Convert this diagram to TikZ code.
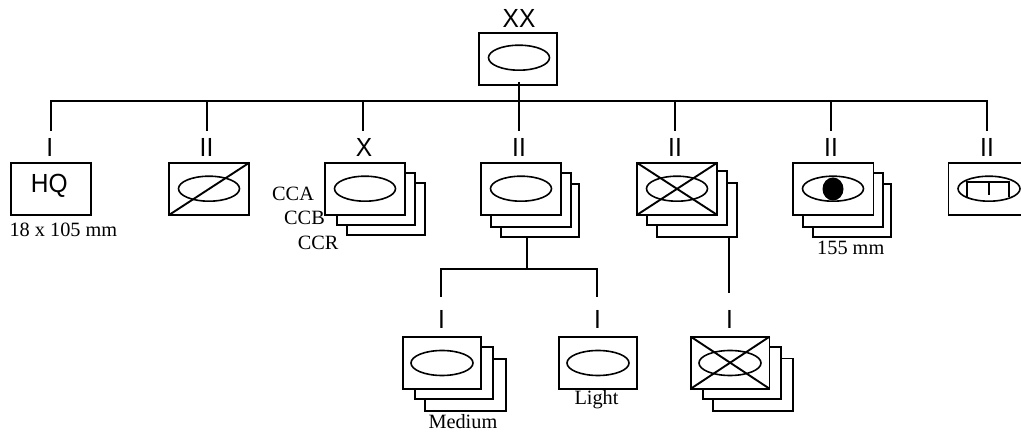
\documentclass[tikz,border=0pt]{standalone}
\usepackage{fontspec}
\setmainfont{Liberation Serif}
\newfontfamily\arialf{Liberation Sans}
\usetikzlibrary{shapes.geometric}
\tikzset{
  line/.style={line width=2pt,line cap=butt},
  unit/.style={draw,line width=1.9pt,fill=white,rectangle,inner sep=0pt,outer sep=0pt},
  oval/.style={draw,line width=1.6pt,shape=ellipse,minimum width=61pt,minimum height=25pt,inner sep=0pt},
  echelon/.style={inner sep=0pt,text height=18.5pt,text depth=0pt,outer sep=7pt},
  note/.style={font=\fontsize{20.3}{20.3}\selectfont,inner sep=0pt,anchor=base west},
  cross/.style={line width=1.9pt},
  inner/.style={line width=1.6pt}
}
\newcommand{\ubox}[5]{\node[unit,minimum width=#4pt-#2pt,minimum height=#5pt-#3pt] (#1) at ({(#2+#4)/2},{(#3+#5)/2}) {};}
\newcommand{\ech}[1]{\scalebox{1}[1.07]{\arialf\fontsize{24.5}{24.5}\selectfont #1}}
\begin{document}
\begin{tikzpicture}[x=1pt,y=-1pt]
\useasboundingbox (0,0) rectangle (1021,435);
\clip (0,0) rectangle (1021,435);
\fill[white] (0,0) rectangle (1021,435);

% bus coordinates
\coordinate (b1) at (51,101);
\coordinate (b2) at (207,101);
\coordinate (b3) at (363,101);
\coordinate (b4) at (519,101);
\coordinate (b5) at (675,101);
\coordinate (b6) at (831,101);
\coordinate (b7) at (987,101);
\coordinate (xxfoot) at (519,82);
\coordinate (sub) at (527,269);
\coordinate (subL) at (441,269);
\coordinate (subR) at (597,269);

% echelon labels
\node[echelon] (lxx) at (519,18) {\ech{XX}};
\node[echelon] (l1) at (49.7,147.5) {\ech{I}};
\node[echelon] (l2) at (206.5,147.5) {\ech{II}};
\node[echelon] (l3) at (364,147.5) {\ech{X}};
\node[echelon] (l4) at (519,147.5) {\ech{II}};
\node[echelon] (l5) at (675,147.5) {\ech{II}};
\node[echelon] (l6) at (831,147.5) {\ech{II}};
\node[echelon] (l7) at (987,147.5) {\ech{II}};
\node[echelon] (l8) at (441.5,319) {\ech{I}};
\node[echelon] (l9) at (597.5,319) {\ech{I}};
\node[echelon] (l10) at (729.5,319) {\ech{I}};
\coordinate (e8) at (441,296.7);
\coordinate (e9) at (597,296.7);
\coordinate (e10) at (729,293.3);

% units
\ubox{hq}{11}{162.7}{91}{215}
\node[inner sep=0pt] (hqt) at (49.3,186) {\ech{HQ}};

\ubox{uxx}{478.8}{32.7}{557.4}{85}
\node[oval] (oxx) at (519,57.7) {};

\ubox{u2}{169}{162.7}{249.3}{215}
\node[oval] (o2) at (209,188.7) {};
\draw[cross] (u2.south west) -- (u2.north east);

\ubox{u3c}{347}{182.7}{425.3}{235}
\ubox{u3b}{337}{172.7}{415.3}{225}
\ubox{u3}{325}{162.7}{405.3}{215}
\node[oval] (o3) at (365,188.7) {};

\ubox{u4c}{501}{184.3}{579.3}{237}
\ubox{u4b}{491}{172.7}{571.3}{227}
\ubox{u4}{481}{162.7}{561.4}{215}
\node[oval] (o4) at (521,188.7) {};

\ubox{u5c}{657.2}{182.7}{737.3}{237}
\ubox{u5b}{647}{170.7}{727}{225}
\ubox{u5}{636.8}{162.7}{717.3}{215}
\node[oval] (o5) at (677,188.7) {};
\draw[cross] (u5.south west) -- (u5.north east);
\draw[cross] (u5.north west) -- (u5.south east);

\ubox{u6c}{813}{184.3}{891.4}{237}
\ubox{u6b}{802.9}{172.7}{883.4}{227}
\ubox{u6}{792.7}{162.7}{873.5}{215}
\node[oval] (o6) at (833,188.7) {};
\fill (833,189) ellipse [x radius=10.5,y radius=11.5];

\ubox{u7}{948.5}{162.7}{1029}{215}
\node[oval,minimum width=62pt] (o7) at (989,188.7) {};
\draw[inner] (967,197) -- (967,182) -- (1009,182) -- (1009,197);
\draw[inner] (989,182) -- (989,195);

\ubox{m3}{425}{358.7}{505.7}{411}
\ubox{m2}{415}{346.7}{493.3}{399}
\ubox{m1}{402.7}{336.7}{481.3}{388.7}
\node[oval,minimum width=62pt] (om) at (442,363) {};

\ubox{li}{559}{336.7}{637.3}{388.7}
\node[oval,minimum width=62pt] (ol) at (598,363) {};

\ubox{r3}{713.3}{358.5}{793.3}{410.8}
\ubox{r2}{702.7}{346.7}{781}{399}
\ubox{r1}{690.8}{336.7}{769.5}{388.7}
\node[oval,minimum width=62pt] (or) at (730,363) {};
\draw[cross] (r1.south west) -- (r1.north east);
\draw[cross] (r1.north west) -- (r1.south east);

% connectors
\draw[line] (b1 |- l1.north) -- (b1) -- (b7) -- (b7 |- l7.north);
\draw[line] (b2) -- (b2 |- l2.north);
\draw[line] (b3) -- (b3 |- l3.north);
\draw[line] (xxfoot) -- (b4 |- l4.north);
\draw[line] (b5) -- (b5 |- l5.north);
\draw[line] (b6) -- (b6 |- l6.north);
\draw[line] (sub |- u4c.south) -- (sub);
\draw[line] (e8) -- (subL) -- (subR) -- (e9);
\draw[line] (e10 |- u5c.south) -- (e10);

% notes
\node[note] (n1) at (9.3,237) {18 x 105 mm};
\node[note] (n2) at (272,201) {CCA};
\node[note] (n3) at (284,225) {CCB};
\node[note] (n4) at (297.7,249.3) {CCR};
\node[note] (n5) at (817,255) {155 mm};
\node[note] (n6) at (574.3,405) {Light};
\node[note] (n7) at (428.3,429) {Medium};
\end{tikzpicture}
\end{document}
